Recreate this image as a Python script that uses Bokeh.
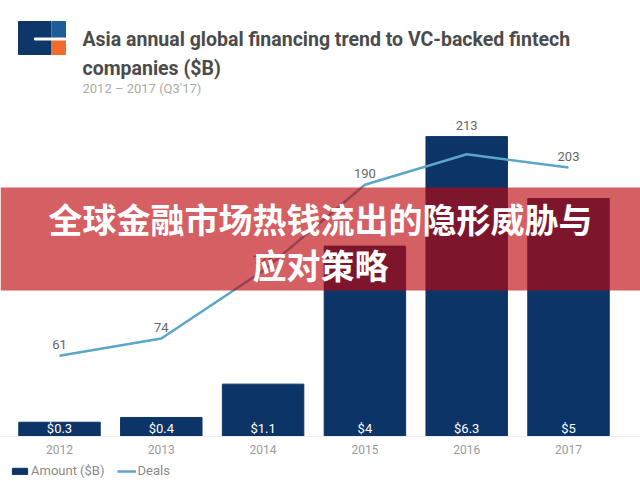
from bokeh.plotting import figure
from bokeh.layouts import column
from bokeh.models import (Range1d, FixedTicker, BoxAnnotation, Label,
                          Legend, LegendItem, LinearAxis)
from bokeh.core.properties import value
from bokeh.embed import file_html
from bokeh.resources import INLINE

# ---------------- data ----------------
years = [2012, 2013, 2014, 2015, 2016, 2017]
amounts = [0.3, 0.4, 1.1, 4, 6.3, 5]
amount_labels = ["$0.3", "$0.4", "$1.1", "$4", "$6.3", "$5"]
deals = [61, 74, 125, 190, 213, 203]
deal_labels = ["61", "74", "125", "190", "213", "203"]

title_1 = "Asia annual global financing trend to VC-backed fintech"
title_2 = "companies ($B)"
subtitle = "2012 \u2013 2017 (Q3'17)"
banner_1 = "全球金融市场热钱流出的隐形威胁与"
banner_2 = "应对策略"

NAVY = "#0c3466"
TEAL = "#5ba6c9"
W = 640
PAGE_H = 481
HEAD_H = 96

# ---------------- header ----------------
h = figure(width=W, height=HEAD_H, x_range=Range1d(0, W), y_range=Range1d(HEAD_H, 0),
           output_backend="svg", toolbar_location=None,
           x_axis_location=None, y_axis_location=None, min_border=0)
h.outline_line_color = None
h.xgrid.visible = False
h.ygrid.visible = False
# logo
h.quad(left=[18], right=[50.5], top=[21], bottom=[54], color="#0d3768")
h.quad(left=[51.5], right=[65], top=[21], bottom=[37.5], color="#1f5d96")
h.quad(left=[51.5], right=[65], top=[39.5], bottom=[54], color="#f26a2c")
h.quad(left=[34], right=[65], top=[37.5], bottom=[39.5], color="white")
# titles
TF = value("Roboto")
h.text(x=[82], y=[39], text=[title_1], text_font=TF,
       text_font_style="bold", text_font_size="19.5px", text_color="#4b4b4b",
       text_baseline="alphabetic")
h.text(x=[82], y=[68], text=[title_2], text_font=TF,
       text_font_style="bold", text_font_size="19.5px", text_color="#4b4b4b",
       text_baseline="alphabetic")
h.text(x=[82], y=[88], text=[subtitle], text_font=TF,
       text_font_size="13px", text_color="#ababab", text_baseline="alphabetic")

# ---------------- chart ----------------
BASE_Y = 436
FRAME_H = PAGE_H - 2 - HEAD_H
PX_PER_AMT = 47.6
PX_PER_DEAL = 1.325
SPACING = 101.8
x_start = years[0] - 59 / SPACING
x_end = x_start + W / SPACING
below_px = HEAD_H + FRAME_H - BASE_Y
above_px = BASE_Y - HEAD_H

p = figure(frame_width=W, frame_height=FRAME_H,
           x_range=Range1d(x_start, x_end),
           y_range=Range1d(-below_px / PX_PER_AMT, above_px / PX_PER_AMT),
           output_backend="svg", toolbar_location=None,
           x_axis_location=None, y_axis_location=None, min_border=0)
p.extra_y_ranges = {"deals": Range1d(-below_px / PX_PER_DEAL, above_px / PX_PER_DEAL)}
p.outline_line_color = None
p.xgrid.visible = False
p.ygrid.visible = False

ax = LinearAxis(fixed_location=0, ticker=FixedTicker(ticks=years))
ax.axis_line_color = "#ececec"
ax.major_tick_line_color = None
ax.minor_tick_line_color = None
ax.major_tick_out = 0
ax.major_tick_in = 0
ax.minor_tick_out = 0
ax.major_label_text_color = "#9a9a9a"
ax.major_label_text_font = "Roboto"
ax.major_label_text_font_size = "12px"
ax.major_label_standoff = 8
p.add_layout(ax, "below")

bars = p.vbar(x=years, top=amounts, width=0.8, color=NAVY)
p.text(x=years, y=[0] * len(years), text=amount_labels, text_align="center",
       text_baseline="middle", y_offset=-8, text_color="white",
       text_font=value("Roboto"), text_font_size="13px")

line = p.line(x=years, y=deals, y_range_name="deals", line_color=TEAL, line_width=2.5)
ratio = PX_PER_AMT / PX_PER_DEAL
label_y = [max(d, a * ratio) for d, a in zip(deals, amounts)]
p.text(x=years, y=label_y, text=deal_labels, y_range_name="deals",
       text_align="center", text_baseline="middle", y_offset=-11,
       text_color="#666666", text_font=value("Roboto"), text_font_size="13px")

# banner overlay
def page_y(py):
    return (BASE_Y - py) / PX_PER_AMT

p.add_layout(BoxAnnotation(top=page_y(187), bottom=page_y(290),
                           fill_color="#bd060b", fill_alpha=0.64, line_color=None))
cx = x_start + 320 / SPACING
for txt, py in [(banner_1, 218), (banner_2, 264)]:
    p.add_layout(Label(x=cx, y=page_y(py), text=txt, text_align="center",
                       text_baseline="middle", text_color="white",
                       text_font="Noto Sans CJK SC", text_font_style="bold",
                       text_font_size="34px"))

legend = Legend(items=[LegendItem(label="Amount ($B)", renderers=[bars]),
                       LegendItem(label="Deals", renderers=[line])],
                orientation="horizontal", location=(10, 1), padding=0, margin=0,
                spacing=12, glyph_width=19, glyph_height=8, label_standoff=2,
                label_height=12, label_text_font="Roboto",
                label_text_font_size="13px", label_text_color="#8a8a8a",
                border_line_color=None, background_fill_alpha=0)
p.add_layout(legend)

layout = column(h, p, spacing=0)
open("out.html", "w").write(file_html(layout, INLINE))
